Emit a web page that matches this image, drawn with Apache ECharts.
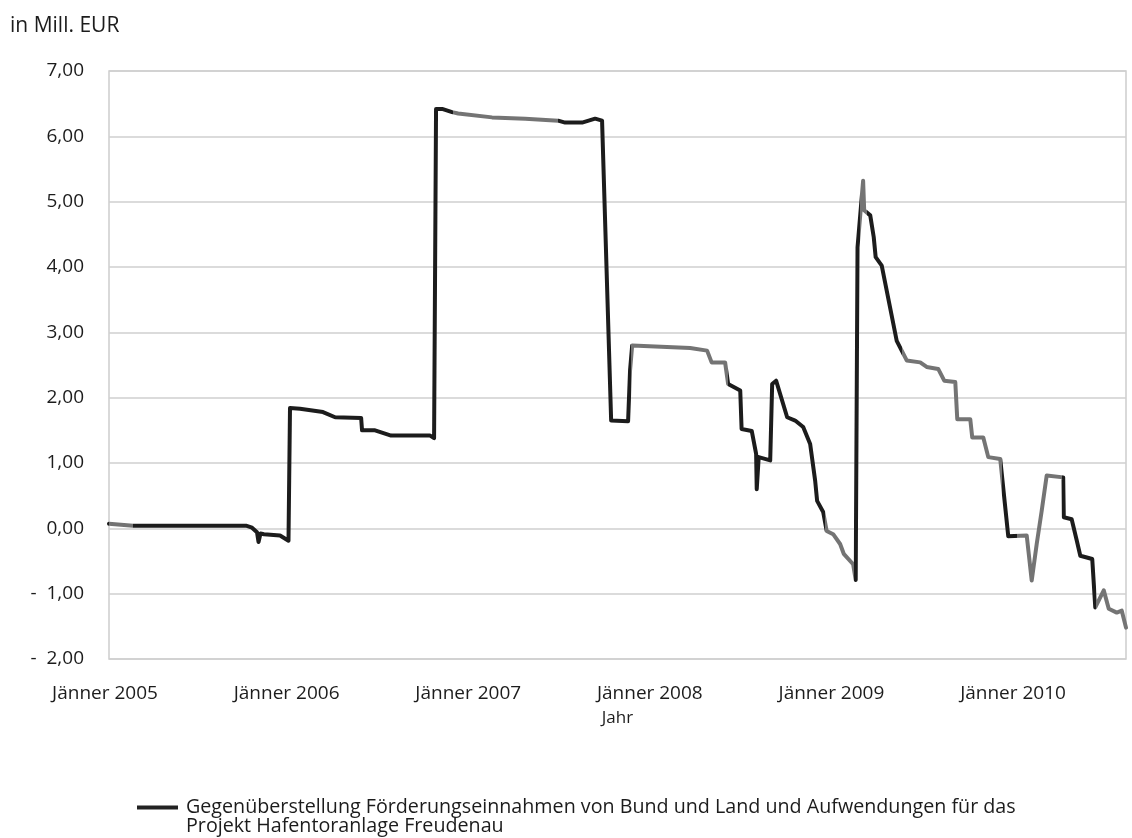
<!DOCTYPE html>
<html>
<head>
<meta charset="utf-8">
<script src="https://cdn.jsdelivr.net/npm/echarts@6/dist/echarts.min.js"></script>
<style>
  html, body { margin: 0; padding: 0; background: #ffffff; }
  #chart { width: 1132px; height: 838px; }
</style>
</head>
<body>
<div id="chart"></div>
<script>
// Zeitachse in Monaten ab Jänner 2005 (0 = Jänner 2005)
const months = [
  0.00, 1.59, 9.05, 9.45, 9.78, 9.88, 10.01, 10.24, 11.30, 11.86,
  11.96, 12.62, 14.14, 14.94, 16.66, 16.72, 17.58, 18.64, 21.22, 21.48,
  21.61, 22.01, 22.67, 23.07, 25.31, 27.50, 29.68, 30.14, 31.26, 32.12,
  32.58, 33.18, 34.30, 34.43, 34.57, 38.40, 39.52, 39.82, 40.71, 40.91,
  41.71, 41.80, 42.47, 42.76, 42.80, 42.93, 43.69, 43.82, 44.08, 44.81,
  45.34, 45.87, 46.33, 46.66, 46.79, 47.19, 47.42, 47.85, 48.31, 48.55,
  49.17, 49.34, 49.46, 49.83, 49.90, 50.30, 50.53, 50.66, 51.06, 52.05,
  52.38, 52.71, 53.60, 54.03, 54.79, 55.19, 55.92, 56.05, 56.91, 57.04,
  57.77, 58.10, 58.89, 59.42, 60.64, 60.97, 61.30, 61.63, 61.96, 63.05,
  63.09, 63.61, 63.95, 64.18, 64.97, 65.17, 65.73, 66.06, 66.59, 66.92,
  67.20
];

// Saldo in Mill. EUR
const balance = [
  0.07, 0.04, 0.04, 0.01, -0.06, -0.21, -0.08, -0.09, -0.11, -0.19,
  1.84, 1.83, 1.78, 1.70, 1.69, 1.50, 1.50, 1.42, 1.42, 1.38,
  6.42, 6.42, 6.37, 6.35, 6.29, 6.27, 6.24, 6.21, 6.21, 6.27,
  6.24, 1.65, 1.64, 2.42, 2.80, 2.76, 2.72, 2.54, 2.54, 2.21,
  2.11, 1.52, 1.49, 1.14, 0.60, 1.09, 1.04, 2.21, 2.26, 1.70,
  1.65, 1.55, 1.29, 0.73, 0.42, 0.25, -0.04, -0.09, -0.24, -0.39,
  -0.55, -0.79, 4.30, 5.32, 4.87, 4.79, 4.46, 4.15, 4.02, 2.87,
  2.72, 2.57, 2.54, 2.47, 2.44, 2.26, 2.24, 1.67, 1.67, 1.39,
  1.39, 1.09, 1.06, -0.12, -0.11, -0.80, -0.24, 0.27, 0.81, 0.78,
  0.17, 0.14, -0.19, -0.42, -0.47, -1.21, -0.95, -1.23, -1.29, -1.26,
  -1.52
];

const yearTicks = [0, 12, 24, 36, 48, 60];
const yearLabels = ['Jänner 2005', 'Jänner 2006', 'Jänner 2007', 'Jänner 2008', 'Jänner 2009', 'Jänner 2010'];

const seriesName = 'Gegenüberstellung Förderungseinnahmen von Bund und Land und Aufwendungen für das\nProjekt Hafentoranlage Freudenau';

// Abschnitte, in denen der Druck der Linie grau statt schwarz erscheint
const greyRanges = [
  [0, 1.6], [22.7, 29.7], [34.5, 40.9], [47.3, 49.2], [49.6, 50.1],
  [52.4, 59.0], [60.0, 63.0], [65.2, 68]
];

const FONT = '"Open Sans", sans-serif';
const INK = '#1c1c1c';
const GREY_LINE = '#747474';

const pieces = greyRanges.map(r => ({ gte: r[0], lt: r[1], color: GREY_LINE }));

function fmtY(v) {
  const s = Math.abs(v).toFixed(2).replace('.', ',');
  return v < 0 ? '-  ' + s : s;
}

const chart = echarts.init(document.getElementById('chart'), null, { renderer: 'canvas' });

chart.setOption({
  animation: false,
  backgroundColor: '#ffffff',
  title: {
    text: 'in Mill. EUR',
    left: 5,
    top: 11,
    textStyle: { fontFamily: FONT, fontSize: 21, fontWeight: 'normal', color: INK }
  },
  grid: {
    left: 109, top: 71, right: 6, bottom: 179,
    show: true,
    borderColor: '#cdcdcd',
    borderWidth: 1.5,
    backgroundColor: 'transparent'
  },
  xAxis: {
    type: 'value',
    min: 0,
    max: 67.2,
    interval: 12,
    name: 'Jahr',
    nameLocation: 'middle',
    nameGap: 51,
    nameTextStyle: { fontFamily: FONT, fontSize: 17, color: INK },
    axisLine: { show: false },
    axisTick: { show: false },
    splitLine: { show: false },
    axisLabel: {
      margin: 25,
      fontFamily: FONT,
      fontSize: 19,
      color: INK,
      padding: [0, 8, 0, 0],
      showMaxLabel: false,
      formatter: v => {
        const i = yearTicks.indexOf(Math.round(v));
        return i >= 0 ? yearLabels[i] : '';
      }
    }
  },
  yAxis: {
    type: 'value',
    min: -2,
    max: 7,
    interval: 1,
    axisLine: { show: false },
    axisTick: { show: false },
    splitLine: { lineStyle: { color: '#cfcfcf', width: 1.5 } },
    axisLabel: {
      margin: 25,
      fontFamily: FONT,
      fontSize: 19,
      color: INK,
      formatter: fmtY
    }
  },
  visualMap: {
    type: 'piecewise',
    show: false,
    dimension: 0,
    seriesIndex: 0,
    pieces: pieces,
    outOfRange: { color: INK }
  },
  legend: {
    left: 137,
    top: 797,
    padding: 0,
    selectedMode: false,
    itemWidth: 44,
    itemHeight: 38,
    icon: 'path://M0,0L0,0 M0,8H41V12H0Z M44,38L44,38',
    itemStyle: { color: '#222222', borderWidth: 0 },
    textStyle: { fontFamily: FONT, fontSize: 19.7, color: INK, lineHeight: 19 },
    data: [seriesName]
  },
  series: [{
    name: seriesName,
    type: 'line',
    data: months.map((m, i) => [m, balance[i]]),
    showSymbol: false,
    symbol: 'none',
    color: INK,
    lineStyle: { width: 4, join: 'round', cap: 'round' }
  }]
});
</script>
</body>
</html>
